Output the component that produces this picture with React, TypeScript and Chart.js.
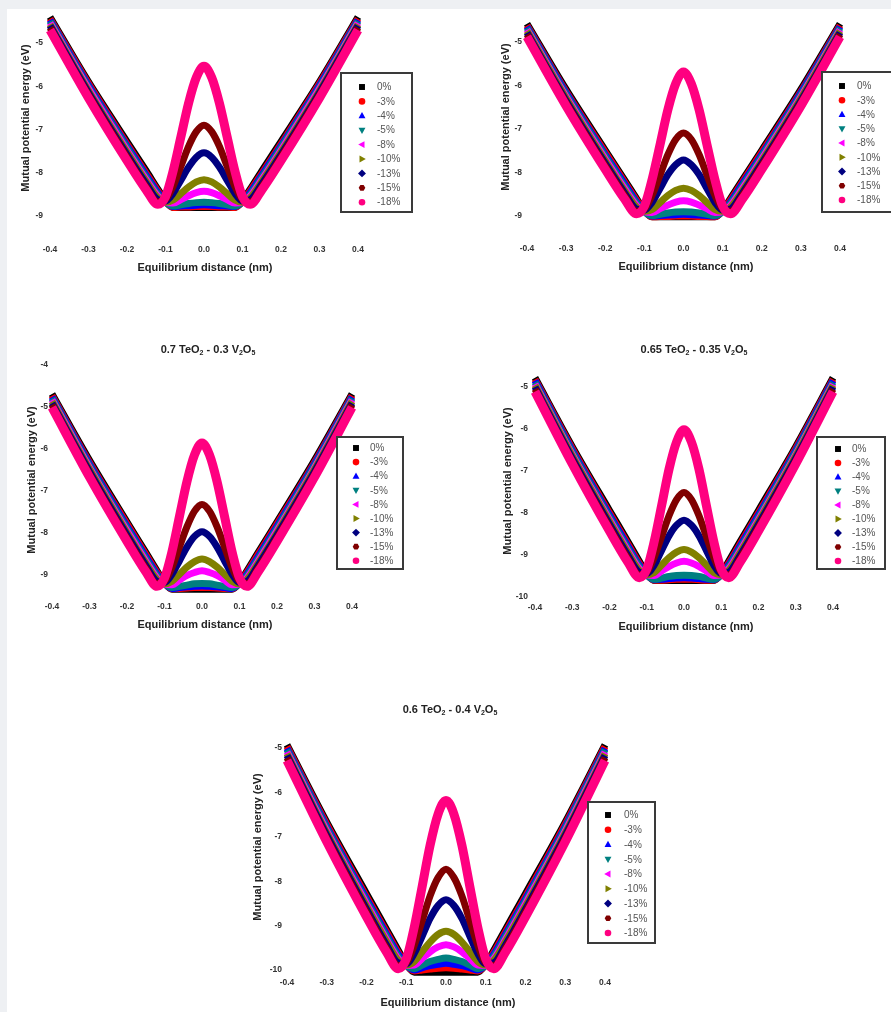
import React, { useEffect, useRef } from 'react';
import { Chart, registerables } from 'chart.js';

Chart.register(...registerables);

// ---------------- DATA ----------------
// Equilibrium distance grid (nm), right half; curves are symmetric about x = 0
const xHalf = [0, 0.02, 0.04, 0.06, 0.08, 0.1, 0.12, 0.15, 0.2, 0.3, 0.4];
const xTicks = [-0.4, -0.3, -0.2, -0.1, 0, 0.1, 0.2, 0.3, 0.4];

const seriesLabels = ['0%', '-3%', '-4%', '-5%', '-8%', '-10%', '-13%', '-15%', '-18%'];
const seriesColors = ['#000000', '#ff0000', '#0000ff', '#008080', '#ff00ff', '#808000', '#000080', '#800000', '#ff0080'];
const markerShapes = ['rect', 'circle', 'triangle', 'triangle', 'triangle', 'triangle', 'diamond', 'hex', 'circle'];
const markerRotations = [0, 0, 0, 180, -90, 90, 0, 0, 0];

// Panel 1 (top left)
const p1_0 = [-8.8, -8.8, -8.8, -8.8, -8.8, -8.65, -8.38, -7.96, -7.28, -5.9, -4.4];
const p1_3 = [-8.78, -8.78, -8.79, -8.79, -8.8, -8.66, -8.42, -8.02, -7.34, -5.94, -4.44];
const p1_4 = [-8.74, -8.75, -8.76, -8.77, -8.78, -8.67, -8.46, -8.06, -7.38, -5.98, -4.47];
const p1_5 = [-8.68, -8.69, -8.71, -8.74, -8.77, -8.68, -8.5, -8.11, -7.42, -6.02, -4.5];
const p1_8 = [-8.43, -8.46, -8.53, -8.62, -8.7, -8.68, -8.54, -8.16, -7.48, -6.06, -4.54];
const p1_10 = [-8.16, -8.21, -8.33, -8.48, -8.63, -8.68, -8.58, -8.21, -7.53, -6.11, -4.57];
const p1_13 = [-7.54, -7.64, -7.87, -8.17, -8.47, -8.65, -8.62, -8.26, -7.58, -6.15, -4.6];
const p1_15 = [-6.9, -7.05, -7.39, -7.85, -8.31, -8.62, -8.67, -8.33, -7.64, -6.2, -4.65];
const p1_18 = [-5.54, -5.8, -6.39, -7.17, -7.95, -8.55, -8.73, -8.4, -7.72, -6.27, -4.7];

// Panel 2 (top right)
const p2_0 = [-9.02, -9.02, -9.02, -9.02, -9.02, -8.87, -8.6, -8.18, -7.49, -6.09, -4.58];
const p2_3 = [-9.0, -9.0, -9.01, -9.01, -9.02, -8.88, -8.64, -8.23, -7.54, -6.14, -4.62];
const p2_4 = [-8.96, -8.97, -8.98, -8.99, -9.0, -8.89, -8.68, -8.27, -7.59, -6.17, -4.65];
const p2_5 = [-8.9, -8.91, -8.93, -8.96, -8.99, -8.9, -8.71, -8.32, -7.63, -6.21, -4.68];
const p2_8 = [-8.65, -8.68, -8.75, -8.83, -8.92, -8.9, -8.76, -8.38, -7.69, -6.26, -4.72];
const p2_10 = [-8.36, -8.41, -8.53, -8.69, -8.85, -8.89, -8.8, -8.43, -7.74, -6.3, -4.75];
const p2_13 = [-7.71, -7.82, -8.05, -8.37, -8.68, -8.86, -8.84, -8.48, -7.79, -6.35, -4.79];
const p2_15 = [-7.09, -7.24, -7.59, -8.06, -8.52, -8.84, -8.89, -8.54, -7.85, -6.4, -4.83];
const p2_18 = [-5.69, -5.96, -6.56, -7.36, -8.15, -8.77, -8.95, -8.62, -7.93, -6.47, -4.88];

// Panel 3: 0.7 TeO2 - 0.3 V2O5
const p3_0 = [-9.34, -9.34, -9.34, -9.34, -9.34, -9.18, -8.9, -8.46, -7.74, -6.27, -4.69];
const p3_3 = [-9.3, -9.3, -9.31, -9.32, -9.33, -9.19, -8.94, -8.51, -7.79, -6.32, -4.73];
const p3_4 = [-9.26, -9.27, -9.28, -9.3, -9.32, -9.2, -8.98, -8.56, -7.84, -6.36, -4.76];
const p3_5 = [-9.2, -9.21, -9.24, -9.27, -9.3, -9.21, -9.02, -8.61, -7.89, -6.4, -4.79];
const p3_8 = [-8.9, -8.94, -9.01, -9.12, -9.23, -9.21, -9.07, -8.67, -7.95, -6.45, -4.83];
const p3_10 = [-8.62, -8.68, -8.81, -8.98, -9.15, -9.21, -9.11, -8.72, -8.0, -6.49, -4.87];
const p3_13 = [-7.97, -8.08, -8.33, -8.66, -8.98, -9.18, -9.15, -8.77, -8.05, -6.54, -4.91];
const p3_15 = [-7.32, -7.48, -7.85, -8.33, -8.82, -9.15, -9.2, -8.84, -8.12, -6.6, -4.95];
const p3_18 = [-5.86, -6.14, -6.77, -7.6, -8.44, -9.07, -9.27, -8.92, -8.2, -6.67, -5.01];

// Panel 4: 0.65 TeO2 - 0.35 V2O5
const p4_0 = [-9.61, -9.61, -9.61, -9.61, -9.61, -9.44, -9.15, -8.69, -7.94, -6.42, -4.78];
const p4_3 = [-9.58, -9.58, -9.59, -9.6, -9.6, -9.46, -9.2, -8.75, -8.0, -6.47, -4.82];
const p4_4 = [-9.54, -9.55, -9.56, -9.58, -9.59, -9.47, -9.24, -8.8, -8.05, -6.51, -4.85];
const p4_5 = [-9.48, -9.49, -9.51, -9.55, -9.58, -9.48, -9.28, -8.85, -8.1, -6.55, -4.89];
const p4_8 = [-9.15, -9.19, -9.27, -9.38, -9.49, -9.47, -9.33, -8.91, -8.16, -6.61, -4.93];
const p4_10 = [-8.87, -8.93, -9.06, -9.24, -9.42, -9.47, -9.37, -8.96, -8.21, -6.65, -4.96];
const p4_13 = [-8.17, -8.29, -8.54, -8.89, -9.24, -9.44, -9.41, -9.02, -8.27, -6.7, -5.0];
const p4_15 = [-7.51, -7.68, -8.06, -8.56, -9.06, -9.41, -9.47, -9.09, -8.34, -6.76, -5.05];
const p4_18 = [-6.02, -6.31, -6.95, -7.82, -8.68, -9.34, -9.54, -9.18, -8.43, -6.83, -5.11];

// Panel 5: 0.6 TeO2 - 0.4 V2O5
const p5_0 = [-10.05, -10.05, -10.05, -10.05, -10.05, -9.87, -9.56, -9.08, -8.28, -6.67, -4.93];
const p5_3 = [-9.95, -9.96, -9.98, -10.0, -10.02, -9.88, -9.61, -9.14, -8.35, -6.72, -4.97];
const p5_4 = [-9.85, -9.87, -9.9, -9.95, -10.0, -9.89, -9.65, -9.19, -8.4, -6.77, -5.01];
const p5_5 = [-9.73, -9.76, -9.81, -9.89, -9.97, -9.9, -9.7, -9.24, -8.45, -6.81, -5.04];
const p5_8 = [-9.43, -9.48, -9.59, -9.74, -9.89, -9.9, -9.75, -9.31, -8.51, -6.87, -5.09];
const p5_10 = [-9.13, -9.2, -9.37, -9.59, -9.81, -9.89, -9.79, -9.36, -8.57, -6.92, -5.13];
const p5_13 = [-8.42, -8.55, -8.84, -9.24, -9.63, -9.86, -9.84, -9.43, -8.63, -6.97, -5.17];
const p5_15 = [-7.73, -7.92, -8.33, -8.89, -9.45, -9.84, -9.9, -9.5, -8.7, -7.03, -5.22];
const p5_18 = [-6.18, -6.49, -7.19, -8.12, -9.04, -9.75, -9.97, -9.59, -8.8, -7.11, -5.28];

// Titles (text, subscript flag)
const title3: [string, boolean][] = [['0.7 TeO', false], ['2', true], [' - 0.3 V', false], ['2', true], ['O', false], ['5', true]];
const title4: [string, boolean][] = [['0.65 TeO', false], ['2', true], [' - 0.35 V', false], ['2', true], ['O', false], ['5', true]];
const title5: [string, boolean][] = [['0.6 TeO', false], ['2', true], [' - 0.4 V', false], ['2', true], ['O', false], ['5', true]];

const xTitle = 'Equilibrium distance (nm)';
const yTitle = 'Mutual potential energy (eV)';

// ---------------- LAYOUT ----------------
const FONT = '"Liberation Sans", Arial, Helvetica, sans-serif';

type Spec = {
  series: number[][];
  yMin: number; yMax: number;
  left: number; top: number; w: number; h: number;
  padTop: number; padRight: number; yAxisW: number; xAxisH: number;
  yTickPad: number; xTickPad: number;
  yTitlePos: [number, number]; xTitlePos: [number, number];
  title?: [string, boolean][]; titlePos?: [number, number];
  legend: { x: number; y: number; w: number; h: number; mx: number; tx: number; y0: number; step: number };
};

const specs: Spec[] = [
  {
    series: [p1_0, p1_3, p1_4, p1_5, p1_8, p1_10, p1_13, p1_15, p1_18],
    yMin: -9.45, yMax: -4.3,
    left: 0, top: 0, w: 445, h: 290,
    padTop: 12.7, padRight: 87, yAxisW: 50, xAxisH: 54.5,
    yTickPad: 7, xTickPad: 9.4,
    yTitlePos: [26, 118], xTitlePos: [205, 268],
    legend: { x: 341, y: 73, w: 71, h: 139, mx: 362, tx: 377, y0: 87, step: 14.4 },
  },
  {
    series: [p2_0, p2_3, p2_4, p2_5, p2_8, p2_10, p2_13, p2_15, p2_18],
    yMin: -9.5, yMax: -4.4,
    left: 445, top: 0, w: 446, h: 290,
    padTop: 15.9, padRight: 51, yAxisW: 82, xAxisH: 52.25,
    yTickPad: 5, xTickPad: 6.2,
    yTitlePos: [506, 117], xTitlePos: [686, 267],
    legend: { x: 822, y: 72, w: 74, h: 140, mx: 842, tx: 857, y0: 86, step: 14.25 },
  },
  {
    series: [p3_0, p3_3, p3_4, p3_5, p3_8, p3_10, p3_13, p3_15, p3_18],
    yMin: -9.5, yMax: -4,
    left: 0, top: 300, w: 445, h: 340,
    padTop: 65, padRight: 93, yAxisW: 52, xAxisH: 44,
    yTickPad: 4, xTickPad: 5.9,
    yTitlePos: [32, 480], xTitlePos: [205, 625],
    title: title3, titlePos: [208, 350],
    legend: { x: 337, y: 437, w: 66, h: 132, mx: 356, tx: 370, y0: 448, step: 14.1 },
  },
  {
    series: [p4_0, p4_3, p4_4, p4_5, p4_8, p4_10, p4_13, p4_15, p4_18],
    yMin: -10, yMax: -4.65,
    left: 445, top: 300, w: 446, h: 340,
    padTop: 72.3, padRight: 58, yAxisW: 90, xAxisH: 43,
    yTickPad: 7, xTickPad: 5.9,
    yTitlePos: [508, 481], xTitlePos: [686, 627],
    title: title4, titlePos: [694, 350],
    legend: { x: 817, y: 437, w: 68, h: 132, mx: 838, tx: 852, y0: 449, step: 14.0 },
  },
  {
    series: [p5_0, p5_3, p5_4, p5_5, p5_8, p5_10, p5_13, p5_15, p5_18],
    yMin: -10, yMax: -4.8,
    left: 220, top: 680, w: 460, h: 332,
    padTop: 59.1, padRight: 75, yAxisW: 67, xAxisH: 42,
    yTickPad: 5, xTickPad: 7.9,
    yTitlePos: [258, 847], xTitlePos: [448, 1003],
    title: title5, titlePos: [450, 710],
    legend: { x: 588, y: 802, w: 67, h: 141, mx: 608, tx: 624, y0: 815, step: 14.75 },
  },
];

function mirror(vals: number[]) {
  const pts: { x: number; y: number }[] = [];
  for (let i = xHalf.length - 1; i > 0; i--) pts.push({ x: -xHalf[i], y: vals[i] });
  for (let i = 0; i < xHalf.length; i++) pts.push({ x: xHalf[i], y: vals[i] });
  return pts;
}

function drawMarker(ctx: CanvasRenderingContext2D, shape: string, rot: number, x: number, y: number, r: number) {
  ctx.save();
  ctx.translate(x, y);
  ctx.rotate((rot * Math.PI) / 180);
  ctx.beginPath();
  if (shape === 'rect') {
    ctx.rect(-r * 0.9, -r * 0.9, r * 1.8, r * 1.8);
  } else if (shape === 'circle') {
    ctx.arc(0, 0, r, 0, Math.PI * 2);
  } else if (shape === 'triangle') {
    ctx.moveTo(0, -r * 1.15);
    ctx.lineTo(r * 1.05, r * 0.75);
    ctx.lineTo(-r * 1.05, r * 0.75);
    ctx.closePath();
  } else if (shape === 'diamond') {
    ctx.moveTo(0, -r * 1.2);
    ctx.lineTo(r * 1.2, 0);
    ctx.lineTo(0, r * 1.2);
    ctx.lineTo(-r * 1.2, 0);
    ctx.closePath();
  } else {
    for (let k = 0; k < 6; k++) {
      const a = (Math.PI / 3) * k;
      const px = r * Math.cos(a);
      const py = r * Math.sin(a);
      if (k === 0) ctx.moveTo(px, py);
      else ctx.lineTo(px, py);
    }
    ctx.closePath();
  }
  ctx.fill();
  ctx.restore();
}

function makeDecor(spec: Spec) {
  return {
    id: 'decor',
    afterDraw(chart: any) {
      const ctx: CanvasRenderingContext2D = chart.ctx;
      const ox = spec.left;
      const oy = spec.top;
      ctx.save();
      // axis titles
      ctx.fillStyle = '#222';
      ctx.font = `bold 11px ${FONT}`;
      ctx.textAlign = 'center';
      ctx.textBaseline = 'middle';
      ctx.fillText(xTitle, spec.xTitlePos[0] - ox, spec.xTitlePos[1] - oy);
      ctx.save();
      ctx.translate(spec.yTitlePos[0] - ox, spec.yTitlePos[1] - oy);
      ctx.rotate(-Math.PI / 2);
      ctx.fillText(yTitle, 0, 0);
      ctx.restore();

      // chart title with subscripts
      if (spec.title && spec.titlePos) {
        const mainFont = `bold 11px ${FONT}`;
        const subFont = `bold 7px ${FONT}`;
        let total = 0;
        for (const [t, sub] of spec.title) {
          ctx.font = sub ? subFont : mainFont;
          total += ctx.measureText(t).width;
        }
        let x = spec.titlePos[0] - ox - total / 2;
        const y = spec.titlePos[1] - oy;
        ctx.textAlign = 'left';
        for (const [t, sub] of spec.title) {
          ctx.font = sub ? subFont : mainFont;
          ctx.fillText(t, x, sub ? y + 3.5 : y);
          x += ctx.measureText(t).width;
        }
      }

      // legend
      const L = spec.legend;
      ctx.fillStyle = '#ffffff';
      ctx.fillRect(L.x - ox, L.y - oy, L.w, L.h);
      ctx.strokeStyle = '#3a3a3a';
      ctx.lineWidth = 2;
      ctx.strokeRect(L.x - ox, L.y - oy, L.w, L.h);
      ctx.font = `10px ${FONT}`;
      ctx.textAlign = 'left';
      ctx.textBaseline = 'middle';
      for (let i = 0; i < seriesLabels.length; i++) {
        const yy = L.y0 + i * L.step - oy;
        ctx.fillStyle = seriesColors[i];
        drawMarker(ctx, markerShapes[i], markerRotations[i], L.mx - ox, yy, 3.3);
        ctx.fillStyle = '#555';
        ctx.fillText(seriesLabels[i], L.tx - ox, yy + 0.5);
      }
      ctx.restore();
    },
  };
}

function Panel({ spec }: { spec: Spec }) {
  const ref = useRef<HTMLCanvasElement>(null);
  useEffect(() => {
    if (!ref.current) return;
    const tickFont = { family: FONT, size: 8.5, weight: 'bold' as const };
    const chart = new Chart(ref.current, {
      type: 'line',
      data: {
        datasets: spec.series.map((vals, i) => ({
          label: seriesLabels[i],
          data: mirror(vals),
          borderColor: seriesColors[i],
          backgroundColor: seriesColors[i],
          borderWidth: i === 8 ? 9 : 7,
          pointRadius: 0,
          pointHoverRadius: 0,
          cubicInterpolationMode: 'monotone' as const,
          fill: false,
          clip: false as any,
          order: 9 - i,
          borderJoinStyle: 'round' as const,
        })),
      },
      options: {
        animation: false,
        responsive: false,
        devicePixelRatio: 1,
        events: [],
        layout: { padding: { left: 0, top: spec.padTop, right: spec.padRight, bottom: 0 } },
        plugins: { legend: { display: false }, tooltip: { enabled: false }, title: { display: false } },
        scales: {
          x: {
            type: 'linear',
            min: -0.4,
            max: 0.4,
            grid: { display: false, drawTicks: false },
            border: { display: false },
            afterBuildTicks: (scale: any) => {
              scale.ticks = xTicks.map((v) => ({ value: v }));
            },
            ticks: {
              padding: spec.xTickPad,
              font: tickFont,
              color: '#333',
              autoSkip: false,
              maxRotation: 0,
              callback: (v: any) => Number(v).toFixed(1),
            },
            afterFit: (scale: any) => {
              scale.height = spec.xAxisH;
            },
          },
          y: {
            type: 'linear',
            min: spec.yMin,
            max: spec.yMax,
            grid: { display: false, drawTicks: false },
            border: { display: false },
            ticks: {
              stepSize: 1,
              includeBounds: false,
              padding: spec.yTickPad,
              font: tickFont,
              color: '#333',
              autoSkip: false,
            },
            afterFit: (scale: any) => {
              scale.width = spec.yAxisW;
            },
          },
        },
      } as any,
      plugins: [makeDecor(spec)],
    });
    return () => chart.destroy();
  }, [spec]);
  return (
    <canvas
      ref={ref}
      width={spec.w}
      height={spec.h}
      style={{ position: 'absolute', left: spec.left, top: spec.top, width: spec.w, height: spec.h }}
    />
  );
}

export default function App() {
  return (
    <div style={{ position: 'absolute', left: 0, top: 0, width: 891, height: 1012, background: '#eef0f3', overflow: 'hidden' }}>
      <div style={{ position: 'absolute', left: 7, top: 9, right: 0, bottom: 0, background: '#ffffff' }} />
      {specs.map((s, i) => (
        <Panel key={i} spec={s} />
      ))}
    </div>
  );
}
